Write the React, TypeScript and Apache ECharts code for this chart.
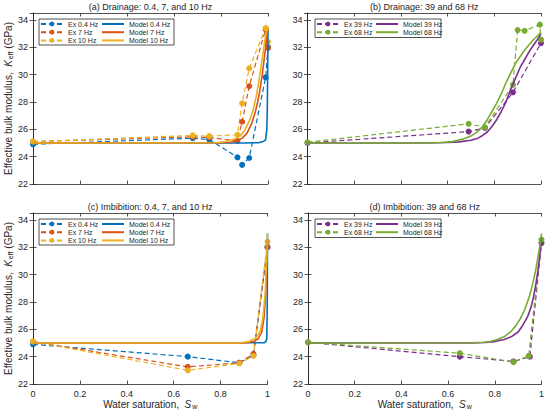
import React, { useEffect, useRef } from "react";
import * as echarts from "echarts";

// ---------- data ----------
const xTickValues = [0, 0.2, 0.4, 0.6, 0.8, 1];
const yTickValues = [22, 24, 26, 28, 30, 32, 34];

const panelTitles = [
  "(a) Drainage: 0.4, 7, and 10 Hz",
  "(b) Drainage: 39 and 68 Hz",
  "(c) Imbibition: 0.4, 7, and 10 Hz",
  "(d) Imbibition: 39 and 68 Hz",
];

// (a) drainage, low frequencies – experiments
const exA04 = [[0, 24.9], [0.68, 25.35], [0.75, 25.25], [0.87, 23.95], [0.89, 23.4], [0.92, 23.9], [0.99, 29.8], [1.0, 32.0]];
const exA7 = [[0, 25.1], [0.68, 25.45], [0.75, 25.4], [0.87, 25.15], [0.89, 26.55], [0.92, 29.15], [0.99, 33.3], [1.0, 31.95]];
const exA10 = [[0, 25.1], [0.68, 25.55], [0.75, 25.5], [0.87, 25.6], [0.89, 27.9], [0.92, 30.45], [0.99, 33.4], [1.0, 32.4]];
// (a) models
const modA04 = [[0, 25.0], [0.5, 25.0], [0.9, 25.0], [0.96, 25.02], [0.98, 25.1], [0.99, 25.25], [0.995, 26.0], [0.997, 27.5], [0.999, 31.0], [1, 33.2]];
const modA7 = [[0, 25], [0.8, 25.02], [0.84, 25.05], [0.87, 25.15], [0.89, 25.35], [0.91, 25.7], [0.93, 26.4], [0.945, 27.2], [0.955, 27.9], [0.965, 28.8], [0.975, 29.9], [0.985, 31.3], [0.993, 32.5], [1, 33.3]];
const modA10 = [[0, 25], [0.78, 25.02], [0.82, 25.1], [0.86, 25.3], [0.88, 25.5], [0.9, 25.9], [0.92, 26.6], [0.935, 27.3], [0.95, 28.4], [0.96, 29.4], [0.97, 30.5], [0.98, 31.7], [0.99, 32.9], [1, 33.5]];

// (b) drainage, high frequencies
const exB39 = [[0, 25.0], [0.69, 25.83], [0.76, 26.1], [0.88, 28.7], [1.0, 32.3]];
const exB68 = [[0, 25.05], [0.69, 26.4], [0.76, 26.15], [0.88, 29.25], [0.9, 33.25], [0.93, 33.2], [0.995, 33.65], [1.0, 32.55]];
const modB39 = [[0, 25], [0.5, 25], [0.6, 25.03], [0.65, 25.08], [0.7, 25.2], [0.73, 25.35], [0.75, 25.55], [0.77, 25.8], [0.79, 26.2], [0.81, 26.7], [0.83, 27.3], [0.85, 28.0], [0.87, 28.9], [0.89, 29.7], [0.91, 30.5], [0.93, 31.1], [0.95, 31.7], [0.97, 32.2], [0.99, 32.7], [1, 33.0]];
const modB68 = [[0, 25], [0.5, 25], [0.57, 25.03], [0.62, 25.1], [0.67, 25.3], [0.7, 25.5], [0.73, 25.85], [0.75, 26.2], [0.77, 26.7], [0.79, 27.3], [0.81, 27.9], [0.83, 28.6], [0.85, 29.4], [0.87, 30.1], [0.89, 30.8], [0.91, 31.3], [0.93, 31.8], [0.95, 32.2], [0.97, 32.6], [0.99, 32.9], [1, 33.1]];

// (c) imbibition, low frequencies
const exC04 = [[0, 24.9], [0.66, 24.0], [0.88, 23.55], [0.94, 24.1], [1.0, 32.0]];
const exC7 = [[0, 25.1], [0.66, 23.25], [0.88, 23.55], [0.94, 24.2], [1.0, 32.0]];
const exC10 = [[0, 25.1], [0.66, 23.0], [0.88, 23.5], [0.94, 24.05], [1.0, 32.4]];
const modC04 = [[0, 25], [0.5, 25], [0.985, 25.02], [0.993, 25.1], [0.997, 25.3], [0.999, 28.0], [1, 33.0]];
const modC7 = [[0, 25], [0.5, 25], [0.9, 25.0], [0.94, 25.1], [0.96, 25.3], [0.975, 25.8], [0.985, 26.8], [0.992, 28.5], [0.997, 31.0], [1, 32.6]];
const modC10 = [[0, 25], [0.5, 25], [0.88, 25.0], [0.92, 25.1], [0.95, 25.35], [0.97, 25.9], [0.98, 26.8], [0.99, 28.6], [0.996, 31.0], [1, 33.0]];

// (d) imbibition, high frequencies
const exD39 = [[0, 25.05], [0.65, 24.0], [0.88, 23.65], [0.95, 24.0], [1.0, 32.3]];
const exD68 = [[0, 25.05], [0.65, 24.25], [0.88, 23.6], [0.945, 24.05], [1.0, 32.55]];
const modD39 = [[0, 25], [0.7, 25], [0.76, 25.03], [0.8, 25.1], [0.84, 25.25], [0.87, 25.45], [0.9, 25.8], [0.92, 26.3], [0.94, 26.9], [0.955, 27.6], [0.965, 28.3], [0.975, 29.2], [0.985, 30.3], [0.993, 31.4], [1, 32.7]];
const modD68 = [[0, 25], [0.7, 25.02], [0.75, 25.05], [0.78, 25.1], [0.81, 25.25], [0.84, 25.45], [0.87, 25.85], [0.89, 26.25], [0.91, 26.8], [0.93, 27.5], [0.95, 28.5], [0.965, 29.5], [0.975, 30.3], [0.985, 31.3], [0.993, 32.1], [1, 33.0]];

// ---------- styling ----------
const FONT = "'Liberation Sans', Arial, Helvetica, sans-serif";
const TXT = "#262626";
const BLUE = "#0072BD";
const RED = "#D95319";
const YEL = "#EDB120";
const PUR = "#7E2F8E";
const GRN = "#77AC30";

const Y_MIN = 22;
const Y_MAX = 34.5;

function exSeries(name: string, data: number[][], color: string, p: number) {
  return {
    type: "line",
    name,
    data,
    xAxisIndex: 2 * p,
    yAxisIndex: 2 * p,
    symbol: "circle",
    symbolSize: 6,
    clip: false,
    lineStyle: { type: [5, 3], width: 1.2, color },
    itemStyle: { color },
    z: 2,
  };
}
function modelSeries(name: string, data: number[][], color: string, p: number) {
  return {
    type: "line",
    name,
    data,
    xAxisIndex: 2 * p,
    yAxisIndex: 2 * p,
    symbol: "none",
    clip: false,
    lineStyle: { width: 1.6, color },
    itemStyle: { color },
    z: 3,
  };
}

type Panel = {
  left: number;
  top: number;
  width: number;
  height: number;
  xLabels: boolean;
  yName: boolean;
  ex: [string, number[][], string][];
  model: [string, number[][], string][];
  legendBox: [number, number, number, number];
  legendCols: [number, number];
};

const panels: Panel[] = [
  {
    left: 33, top: 13, width: 235, height: 171, xLabels: false, yName: true,
    ex: [["Ex 0.4 Hz", exA04, BLUE], ["Ex 7 Hz", exA7, RED], ["Ex 10 Hz", exA10, YEL]],
    model: [["Model 0.4 Hz", modA04, BLUE], ["Model 7 Hz", modA7, RED], ["Model 10 Hz", modA10, YEL]],
    legendBox: [39, 19, 135, 26], legendCols: [40, 101],
  },
  {
    left: 307.5, top: 13, width: 233.5, height: 171, xLabels: false, yName: false,
    ex: [["Ex 39 Hz", exB39, PUR], ["Ex 68 Hz", exB68, GRN]],
    model: [["Model 39 Hz", modB39, PUR], ["Model 68 Hz", modB68, GRN]],
    legendBox: [315, 19, 126, 18.5], legendCols: [316, 375],
  },
  {
    left: 33, top: 213, width: 234.5, height: 171, xLabels: true, yName: true,
    ex: [["Ex 0.4 Hz", exC04, BLUE], ["Ex 7 Hz", exC7, RED], ["Ex 10 Hz", exC10, YEL]],
    model: [["Model 0.4 Hz", modC04, BLUE], ["Model 7 Hz", modC7, RED], ["Model 10 Hz", modC10, YEL]],
    legendBox: [39, 219, 135, 26], legendCols: [40, 101],
  },
  {
    left: 308, top: 213, width: 233.5, height: 171, xLabels: true, yName: false,
    ex: [["Ex 39 Hz", exD39, PUR], ["Ex 68 Hz", exD68, GRN]],
    model: [["Model 39 Hz", modD39, PUR], ["Model 68 Hz", modD68, GRN]],
    legendBox: [315, 219, 126, 18.5], legendCols: [316, 375],
  },
];

const axisLineStyle = { color: TXT, width: 0.8 };

const nameRich = {
  a: { fontSize: 10, color: TXT, fontFamily: FONT },
  i: { fontSize: 10, fontStyle: "italic", color: TXT, fontFamily: FONT },
  s: { fontSize: 7, verticalAlign: "bottom", color: TXT, fontFamily: FONT, padding: [4, 0, 0, 1] },
};

function buildOption() {
  const grid: any[] = [];
  const xAxis: any[] = [];
  const yAxis: any[] = [];
  const series: any[] = [];
  const legend: any[] = [];
  const title: any[] = [];
  const graphic: any[] = [];

  panels.forEach((pn, p) => {
    grid.push({ left: pn.left, top: pn.top, width: pn.width, height: pn.height, containLabel: false });

    const xBase = {
      type: "value",
      gridIndex: p,
      min: xTickValues[0],
      max: xTickValues[xTickValues.length - 1],
      interval: xTickValues[1] - xTickValues[0],
      splitLine: { show: false },
      axisLine: { show: true, lineStyle: axisLineStyle },
      axisTick: { show: true, inside: true, length: 3.5, lineStyle: axisLineStyle },
    };
    xAxis.push({
      ...xBase,
      position: "bottom",
      axisLabel: {
        show: pn.xLabels, color: TXT, fontSize: 9, fontFamily: FONT, margin: 5,
        formatter: (v: number) => String(Math.round(v * 10) / 10),
      },
      name: pn.xLabels ? "{a|Water saturation,  }{i|S}{s|w}" : "",
      nameLocation: "middle",
      nameGap: 15,
      nameTextStyle: { color: TXT, fontSize: 10, fontFamily: FONT, rich: nameRich },
    });
    xAxis.push({ ...xBase, position: "top", axisLabel: { show: false } });

    const yBase = {
      type: "value",
      gridIndex: p,
      min: Y_MIN,
      max: Y_MAX,
      interval: yTickValues[1] - yTickValues[0],
      splitLine: { show: false },
      axisLine: { show: true, lineStyle: axisLineStyle },
      axisTick: { show: true, inside: true, length: 3.5, lineStyle: axisLineStyle },
    };
    yAxis.push({
      ...yBase,
      position: "left",
      axisLabel: {
        show: true, color: TXT, fontSize: 9, fontFamily: FONT, margin: 5, showMaxLabel: false,
        formatter: (v: number) => (yTickValues.indexOf(v) >= 0 ? String(v) : ""),
      },
      name: pn.yName ? "{a|Effective bulk modulus,  }{i|K}{s|eff}{a| (GPa)}" : "",
      nameLocation: "middle",
      nameGap: 15,
      nameTextStyle: { color: TXT, fontSize: 10, fontFamily: FONT, rich: nameRich },
    });
    yAxis.push({ ...yBase, position: "right", axisLabel: { show: false } });

    pn.ex.forEach(([n, d, c]) => series.push(exSeries(n, d, c, p)));
    pn.model.forEach(([n, d, c]) => series.push(modelSeries(n, d, c, p)));

    const legendCommon = {
      orient: "vertical",
      top: pn.legendBox[1] + 1.5,
      itemWidth: 22,
      itemHeight: 6,
      itemGap: 1.2,
      padding: 0,
      z: 6,
      textStyle: { fontSize: 7, color: TXT, fontFamily: FONT },
      selectedMode: false,
    };
    legend.push({ ...legendCommon, left: pn.legendCols[0], data: pn.ex.map((e) => e[0]) });
    legend.push({
      ...legendCommon,
      left: pn.legendCols[1],
      data: pn.model.map((e) => ({
        name: e[0],
        itemStyle: { color: "rgba(0,0,0,0)", borderWidth: 0 },
      })),
    });

    graphic.push({
      type: "rect",
      z: 5,
      shape: { x: pn.legendBox[0], y: pn.legendBox[1], width: pn.legendBox[2], height: pn.legendBox[3] },
      style: { fill: "#fff", stroke: TXT, lineWidth: 0.8 },
    });

    title.push({
      text: panelTitles[p],
      left: pn.left + pn.width / 2,
      top: pn.top - 11,
      textAlign: "center",
      padding: 0,
      textStyle: { fontSize: 9, fontWeight: "normal", color: TXT, fontFamily: FONT },
    });
  });

  return {
    animation: false,
    backgroundColor: "#fff",
    textStyle: { fontFamily: FONT },
    title,
    grid,
    xAxis,
    yAxis,
    legend,
    graphic,
    series,
  };
}

export default function App() {
  const ref = useRef<HTMLDivElement>(null);
  useEffect(() => {
    if (!ref.current) return;
    const chart = echarts.init(ref.current, null, { renderer: "svg" });
    chart.setOption(buildOption() as any);
    return () => chart.dispose();
  }, []);
  return (
    <div
      ref={ref}
      style={{ position: "fixed", left: 0, top: 0, width: 550, height: 413, background: "#fff" }}
    />
  );
}
